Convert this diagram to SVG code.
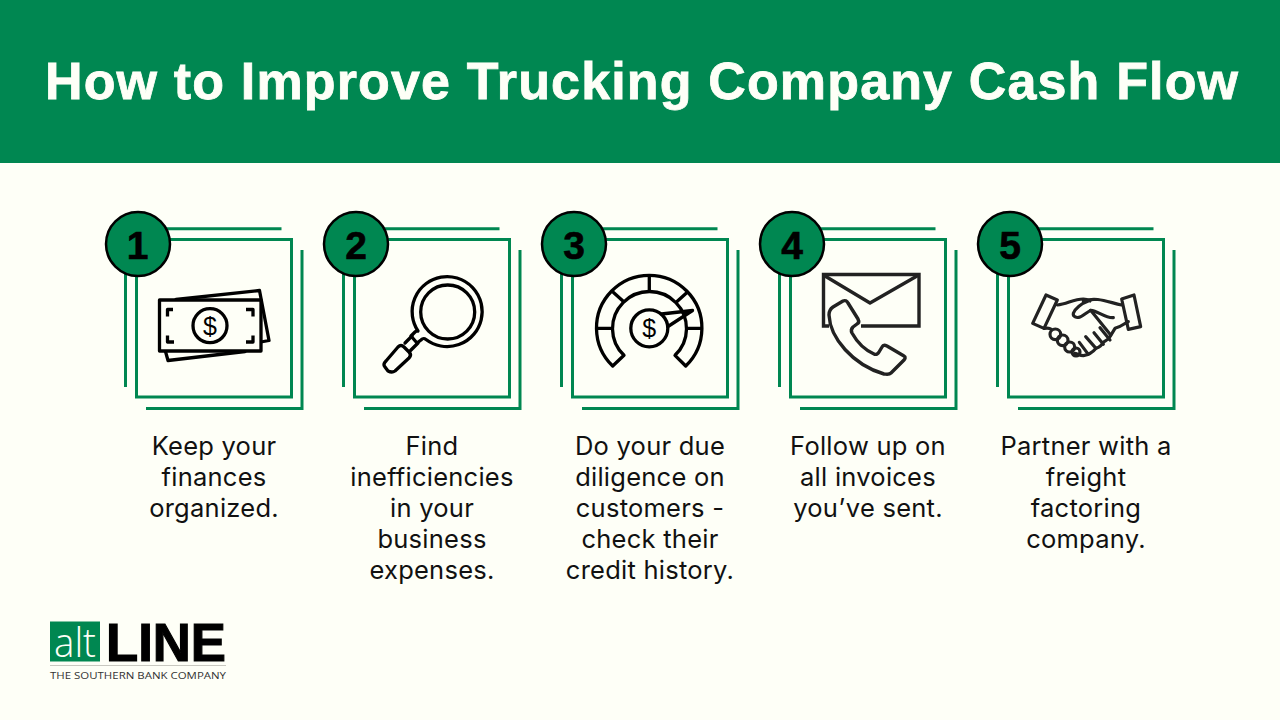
<svg xmlns="http://www.w3.org/2000/svg" xmlns:xlink="http://www.w3.org/1999/xlink" width="1280" height="720" viewBox="0 0 1280 720">
<style>
.f{fill:none;stroke:#008751;stroke-width:3}
.b{fill:#008751;stroke:#000;stroke-width:2.500}
.n{font:700 39px "Liberation Sans",sans-serif;fill:#000;stroke:#000;stroke-width:.6;text-anchor:middle}
.t{font:400 25.500px "Inter","Noto Sans",sans-serif;letter-spacing:.25px;fill:#111;text-anchor:middle}
.i{fill:none;stroke:#000;stroke-width:3.300;stroke-linejoin:round;stroke-linecap:round}
.j{fill:none;stroke:#222;stroke-width:3.400;stroke-linejoin:round;stroke-linecap:round}
.h{stroke-width:9.500}
.d{font:400 25px "Liberation Sans",sans-serif;fill:#000;text-anchor:middle}
</style>
<defs>
<g id="frame">
<path class="f" d="M136.500 239.500H291.500V397H136.500Z"/>
<path class="f" d="M165 228.700H281.500M125.500 270V387M302 250V408.500H146"/>
</g>
</defs>
<rect width="1280" height="720" fill="#fefff7"/>
<rect id="band" width="1280" height="163" fill="#008751"/>
<text x="641.500" y="99.300" text-anchor="middle" textLength="1193" lengthAdjust="spacing" style="font:700 52px 'Liberation Sans',sans-serif;fill:#fefff7;stroke:#fefff7;stroke-width:.8">How to Improve Trucking Company Cash Flow</text>

<g id="connectors"></g>

<g id="node-1">
<use xlink:href="#frame"/>
<circle class="b" cx="138" cy="244" r="32"/>
<text class="n" x="137.500" y="258.500">1</text>
<g class="i">
<path d="M176 299.500 259.500 290.500 269 340.500 258 342.500M245 351.500 168 360.500 165.500 351.500"/>
<rect x="159.500" y="300" width="101.500" height="51" fill="#fefff7"/>
<circle cx="210" cy="325.700" r="17"/>
<path d="M173 309.500H167.500V316.500M246 309.500H253V316.500M167.500 335.500V342H174M253 335.500V342H246" stroke-linecap="butt"/>
</g>
<text class="d" x="210" y="334.500">$</text>
<text class="t" x="214" y="455">Keep your</text>
<text class="t" x="214" y="486">finances</text>
<text class="t" x="214" y="517">organized.</text>
</g>

<g id="node-2" >
<use xlink:href="#frame" x="218"/>
<circle class="b" cx="356" cy="244" r="32"/>
<text class="n" x="356" y="258.500">2</text>
<g class="i">
<circle cx="447.700" cy="312" r="27"/>
<path d="M418 331A35 35 0 1 1 426 339.500C424 338 423 338 421 340L417 343 411 336 415 332C417 330 418 331 418 331Z"/>
<path d="M412 336 405 343M418 343 410.500 350.500"/>
<path d="M386 361 398 347C400 345 402 345 404 347L409 352C411 354 411 356 409 358L395 371C392 373 390 372 388 371L385 367C383 365 384 363 386 361Z"/>
</g>
<text class="t" x="432" y="455">Find</text>
<text class="t" x="432" y="486">inefficiencies</text>
<text class="t" x="432" y="517">in your</text>
<text class="t" x="432" y="548">business</text>
<text class="t" x="432" y="579">expenses.</text>
</g>

<g id="node-3">
<use xlink:href="#frame" x="436"/>
<circle class="b" cx="574" cy="244" r="32"/>
<text class="n" x="574" y="258.500">3</text>
<g class="i">
<path d="M612.700 366A52.700 52.700 0 1 1 685.700 366L675 355.300A37 37 0 1 0 624 355.300Z"/>
<path d="M597 328.300H611M649.300 276V290.500M613.500 292.500 623.500 301.500M677 301.500 687 292.500M687.500 328.300H701"/>
<circle cx="649.300" cy="328.300" r="18.500"/>
<path d="M661.500 314 692.500 310.500 668 326.500"/>
</g>
<text class="d" x="649.300" y="337">$</text>
<text class="t" x="650" y="455">Do your due</text>
<text class="t" x="650" y="486">diligence on</text>
<text class="t" x="650" y="517">customers -</text>
<text class="t" x="650" y="548">check their</text>
<text class="t" x="650" y="579">credit history.</text>
</g>

<g id="node-4">
<use xlink:href="#frame" x="654"/>
<circle class="b" cx="792" cy="244" r="32"/>
<text class="n" x="792" y="258.500">4</text>
<g class="j">
<path d="M829 326H823.500V274.500H919V326H861" stroke-linecap="butt" stroke-linejoin="miter"/>
<path d="M825 276 870 303 917 276"/>
<path d="M829 315C829 311 830 309 833 307L843 301C845 300 847 301 848 303L858 319C859 321 859 323 857 324L853 327C851 329 851 331 852 333C857 342 865 350 874 354C876 355 878 354 879 352L882 347C883 345 885 345 887 346L904 356C906 357 905 359 904 360L891 373C889 375 886 374 884 374C853 365 830 338 829 315Z"/>
</g>
<text class="t" x="868" y="455">Follow up on</text>
<text class="t" x="868" y="486">all invoices</text>
<text class="t" x="868" y="517">you’ve sent.</text>
</g>

<g id="node-5">
<use xlink:href="#frame" x="872"/>
<circle class="b" cx="1010" cy="244" r="32"/>
<text class="n" x="1010" y="258.500">5</text>
<g class="j" transform="translate(1020 285) scale(.33333)">
<path class="h" d="M78 30 112 45 72 130 38 115Z"/>
<path class="h" d="M305 42 342 30 362 125 325 133Z"/>
<path class="h" d="M112 60C140 58 160 42 190 42C200 42 205 45 210 48"/>
<path class="h" d="M205 48C185 55 165 70 160 85C158 95 170 100 180 96C190 92 200 82 212 76C235 78 255 100 280 98"/>
<path class="h" d="M190 48C230 35 260 50 305 60"/>
<path class="h" d="M325 110C312 115 305 125 285 130L270 155C265 165 255 168 250 172C245 182 235 188 228 190C220 200 205 210 190 212C180 212 170 205 165 205"/>
<path class="h" d="M212 76 272 150M240 128 270 165M222 143 250 178M197 155 228 190M178 172 205 208M72 130C85 128 92 130 95 135"/>
<circle class="h" cx="106" cy="148" r="16"/>
<circle class="h" cx="128" cy="166" r="16"/>
<circle class="h" cx="149" cy="186" r="15"/>
<circle class="h" cx="168" cy="201" r="12"/>
</g>
<text class="t" x="1086" y="455">Partner with a</text>
<text class="t" x="1086" y="486">freight</text>
<text class="t" x="1086" y="517">factoring</text>
<text class="t" x="1086" y="548">company.</text>
</g>

<g id="logo">
<rect x="50" y="621.500" width="50" height="40" fill="#008751"/>
<text x="75" y="656.500" text-anchor="middle" textLength="42" lengthAdjust="spacingAndGlyphs" style="font:300 40px 'Open Sans','Liberation Sans',sans-serif;fill:#fefff7">alt</text>
<text x="106" y="661" textLength="120" lengthAdjust="spacingAndGlyphs" style="font:700 54px 'Liberation Sans',sans-serif;fill:#000;stroke:#000;stroke-width:1.200">LINE</text>
<path d="M50 665.500H226" stroke="#c8c8c0" stroke-width="1"/>
<text x="50" y="679" textLength="176" lengthAdjust="spacingAndGlyphs" style="font:400 9.800px 'Open Sans','Liberation Sans',sans-serif;fill:#333">THE SOUTHERN BANK COMPANY</text>
</g>
</svg>
